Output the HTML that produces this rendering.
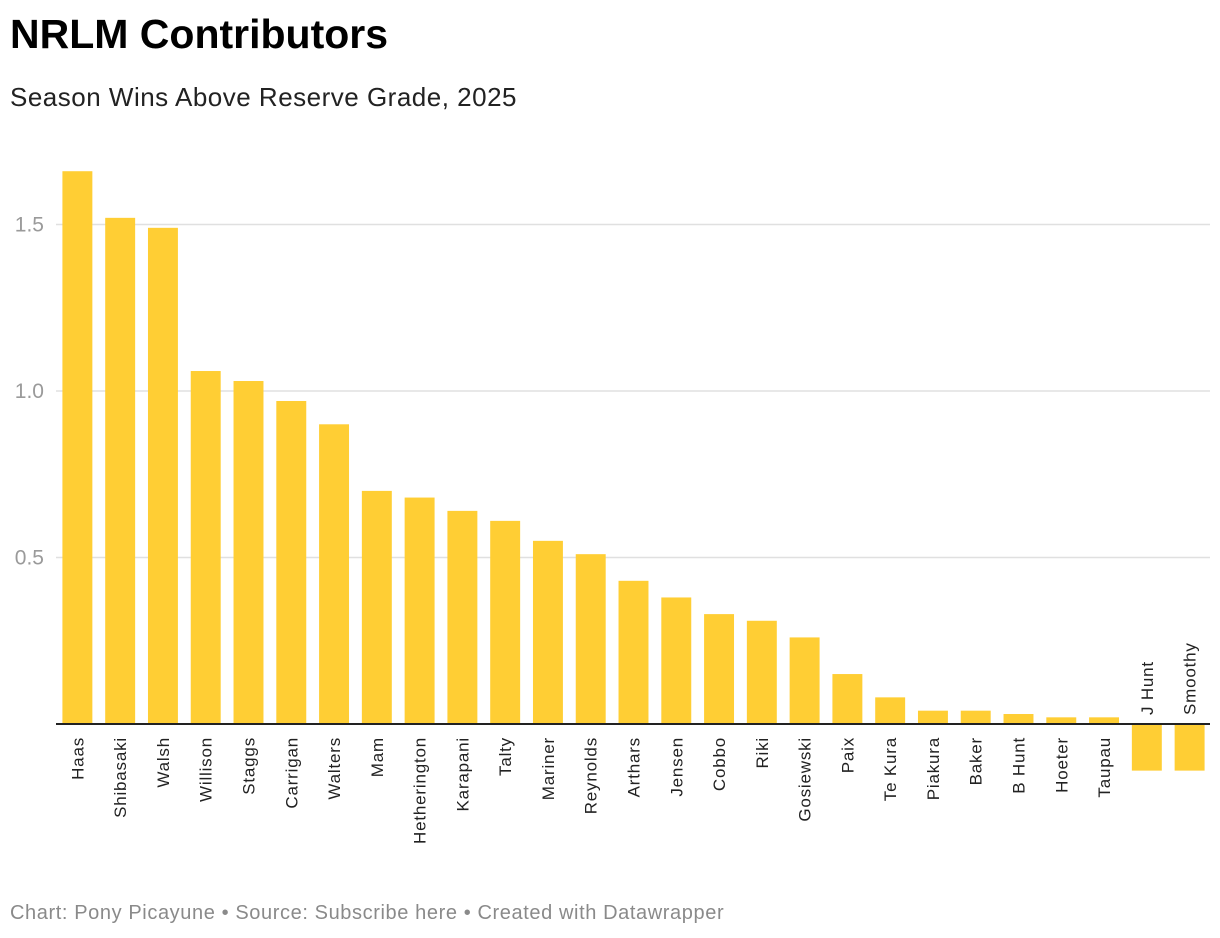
<!DOCTYPE html>
<html><head><meta charset="utf-8"><style>
body{margin:0;background:#fff;font-family:"Liberation Sans",sans-serif;}
#wrap{position:relative;width:1220px;height:938px;overflow:hidden;}
h1{position:absolute;left:10px;top:11px;margin:0;font-size:41px;font-weight:bold;color:#000;letter-spacing:0px;}
.sub{position:absolute;left:10px;top:82px;font-size:26px;color:#222;letter-spacing:0.5px;}
.foot{position:absolute;left:10px;top:902px;font-size:20px;color:#8a8a8a;letter-spacing:0.6px;}
</style></head><body>
<div id="wrap">
<h1>NRLM Contributors</h1>
<div class="sub">Season Wins Above Reserve Grade, 2025</div>
<svg id="chart" width="1220" height="938" style="position:absolute;left:0;top:0"></svg>
<div class="foot">Chart: Pony Picayune • Source: Subscribe here • Created with Datawrapper</div>
</div>
<script>
const categories=["Haas","Shibasaki","Walsh","Willison","Staggs","Carrigan","Walters","Mam","Hetherington","Karapani","Talty","Mariner","Reynolds","Arthars","Jensen","Cobbo","Riki","Gosiewski","Paix","Te Kura","Piakura","Baker","B Hunt","Hoeter","Taupau","J Hunt","Smoothy"];
const values=[1.66,1.52,1.49,1.06,1.03,0.97,0.90,0.70,0.68,0.64,0.61,0.55,0.51,0.43,0.38,0.33,0.31,0.26,0.15,0.08,0.04,0.04,0.03,0.02,0.02,-0.14,-0.14];
const yTicks=[0.5,1.0,1.5];
const yTickLabels=["0.5","1.0","1.5"];
const NS="http://www.w3.org/2000/svg";
const svg=document.getElementById('chart');
const x0=56,x1=1211,y0=724,unit=333;
const step=(x1-x0)/categories.length;
function xs(i){return x0+i*step+step*0.15;}
const bw=step*0.70;
function ys(v){return y0-v*unit;}
function mk(t,a){const e=document.createElementNS(NS,t);for(const k in a)e.setAttribute(k,a[k]);svg.appendChild(e);return e;}
yTicks.forEach((t,i)=>{
  const g=mk('line',{x1:x0,x2:1210,y1:ys(t),y2:ys(t),stroke:'#e0e0e0','stroke-width':1.5});
  
  
  const l=mk('text',{x:44,y:ys(t)+7,'text-anchor':'end','font-size':21,fill:'#9a9a9a','font-family':'Liberation Sans, sans-serif'});
  l.textContent=yTickLabels[i];
  
  
});
categories.forEach((c,i)=>{
  const v=values[i];
  const top=Math.min(ys(v),y0),h=Math.abs(ys(v)-y0);
  const r=mk('rect',{x:xs(i),y:top,width:bw,height:h,fill:'#ffce34'});
  
  
  const cx=xs(i)+bw/2+6;
  let t;
  if(v>=0){
    t=mk('text',{x:0,y:0,'text-anchor':'end','font-size':17,'letter-spacing':0.8,fill:'#222','font-family':'Liberation Sans, sans-serif',transform:`translate(${cx},${y0+13}) rotate(-90)`});
  }else{
    t=mk('text',{x:0,y:0,'text-anchor':'start','font-size':17,'letter-spacing':0.8,fill:'#222','font-family':'Liberation Sans, sans-serif',transform:`translate(${cx},${y0-9}) rotate(-90)`});
  }
  t.textContent=c;
  
  
});
const ax=mk('line',{x1:x0,x2:1210,y1:y0,y2:y0,stroke:'#222','stroke-width':2});


</script>
</body></html>
